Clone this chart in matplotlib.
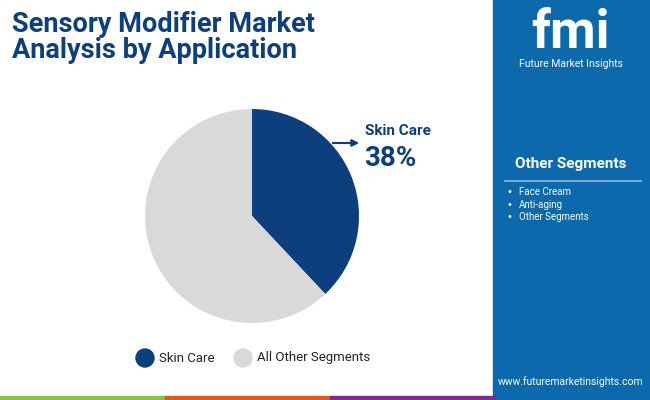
import matplotlib
matplotlib.use("Agg")
import matplotlib.pyplot as plt
from matplotlib.patches import Rectangle, Circle

categories = ["Skin Care", "All Other Segments"]
values = [38, 62]
colors = ["#0d3e7d", "#d9d9d9"]
side_items = ["Face Cream", "Anti-aging", "Other Segments"]

W, H = 650, 400
fig = plt.figure(figsize=(6.5, 4), dpi=100)
bg = fig.add_axes([0, 0, 1, 1])
bg.set_xlim(0, W); bg.set_ylim(H, 0); bg.axis("off")

# right panel
bg.add_patch(Rectangle((493, 0), W - 493, H, color="#0b69ac"))
bg.plot([505, 641], [181, 181], color="#8fb8dd", lw=1.2)
bg.text(571, 164, "Other Segments", color="white", fontsize=11, fontweight="bold",
        ha="center", va="center", family="Roboto")
for i, t in enumerate(side_items):
    y = 192 + i * 12.5
    bg.text(509, y, "•", color="white", fontsize=7, ha="center", va="center")
    bg.text(519, y, t, color="white", fontsize=7, ha="left", va="center", family="Roboto")
bg.text(571, 382, "www.futuremarketinsights.com", color="white", fontsize=7.5,
        ha="center", va="center", family="Roboto")
# logo
bg.text(571, 34, "fmi", color="white", fontsize=38, fontweight="bold", ha="center",
        va="center", family="Roboto")
bg.text(571, 64, "Future Market Insights", color="white", fontsize=7.5, ha="center",
        va="center", family="Roboto")

# bottom strip
for x0, c in [(0, "#8bc043"), (165, "#e2571e"), (330, "#7d2a8a")]:
    bg.add_patch(Rectangle((x0, 396), 165, 4, color=c))

# title
bg.text(12, 24, "Sensory Modifier Market", color="#0d3e7d", fontsize=19.5,
        fontweight="bold", va="center", family="Roboto")
bg.text(12, 51, "Analysis by Application", color="#0d3e7d", fontsize=19.5,
        fontweight="bold", va="center", family="Roboto")

# pie
R = 107
ax = fig.add_axes([(252 - R) / W, 1 - (216 + R) / H, 2 * R / W, 2 * R / H])
ax.pie(values, colors=colors, startangle=90, counterclock=False,
       wedgeprops=dict(linewidth=0))
ax.set_xlim(-1, 1); ax.set_ylim(-1, 1)
ax.set_aspect("auto")

# annotation
bg.annotate("", xy=(362, 143), xytext=(330, 143),
            arrowprops=dict(arrowstyle="-|>", color="#0d3e7d", lw=1.5, mutation_scale=10))
bg.text(365, 131, "Skin Care", color="#0d3e7d", fontsize=11, fontweight="bold",
        va="center", family="Roboto")
bg.text(364, 158, "38%", color="#0d3e7d", fontsize=20, fontweight="bold",
        va="center", family="Roboto")

# legend
for x, c, t in [(145, colors[0], categories[0]), (243, colors[1], categories[1])]:
    bg.add_patch(Circle((x, 358), 9, color=c))
    bg.text(x + 14, 358, t, fontsize=9.5, va="center", color="#222222", family="Roboto")

fig.savefig("out.png", dpi=100)
